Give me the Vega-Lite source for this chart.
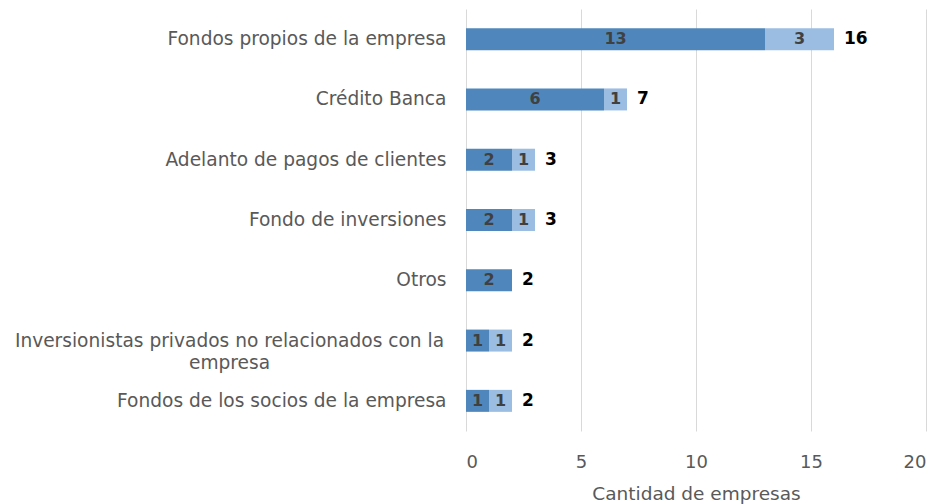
{
  "$schema": "https://vega.github.io/schema/vega-lite/v6.json",
  "width": 460,
  "height": 422,
  "padding": {"left": 14, "top": 9, "right": 10, "bottom": 2},
  "config": {"view": {"stroke": null}, "font": "DejaVu Sans"},
  "data": {"values": [
    {"fuente": "Fondos propios de la empresa", "serie": "Serie 1", "valor": 13},
    {"fuente": "Fondos propios de la empresa", "serie": "Serie 2", "valor": 3},
    {"fuente": "Crédito Banca", "serie": "Serie 1", "valor": 6},
    {"fuente": "Crédito Banca", "serie": "Serie 2", "valor": 1},
    {"fuente": "Adelanto de pagos de clientes", "serie": "Serie 1", "valor": 2},
    {"fuente": "Adelanto de pagos de clientes", "serie": "Serie 2", "valor": 1},
    {"fuente": "Fondo de inversiones", "serie": "Serie 1", "valor": 2},
    {"fuente": "Fondo de inversiones", "serie": "Serie 2", "valor": 1},
    {"fuente": "Otros", "serie": "Serie 1", "valor": 2},
    {"fuente": "Otros", "serie": "Serie 2", "valor": 0},
    {"fuente": "Inversionistas privados no relacionados con la empresa", "serie": "Serie 1", "valor": 1},
    {"fuente": "Inversionistas privados no relacionados con la empresa", "serie": "Serie 2", "valor": 1},
    {"fuente": "Fondos de los socios de la empresa", "serie": "Serie 1", "valor": 1},
    {"fuente": "Fondos de los socios de la empresa", "serie": "Serie 2", "valor": 1}
  ]},
  "encoding": {
    "y": {
      "field": "fuente", "type": "nominal", "title": null,
      "sort": ["Fondos propios de la empresa", "Crédito Banca", "Adelanto de pagos de clientes", "Fondo de inversiones", "Otros", "Inversionistas privados no relacionados con la empresa", "Fondos de los socios de la empresa"],
      "axis": {
        "domain": false, "ticks": false, "labelFontSize": 18.6, "labelColor": "#595959",
        "labelPadding": {"condition": {"test": "datum.value == 'Inversionistas privados no relacionados con la empresa'", "value": 237}, "value": 20},
        "labelAlign": {"condition": {"test": "datum.value == 'Inversionistas privados no relacionados con la empresa'", "value": "center"}, "value": "right"},
        "labelLimit": 600, "labelLineHeight": 22,
        "labelExpr": "datum.label == 'Inversionistas privados no relacionados con la empresa' ? ['Inversionistas privados no relacionados con la', 'empresa'] : datum.label"
      }
    }
  },
  "layer": [
    {
      "transform": [
        {"stack": "valor", "groupby": ["fuente"], "sort": [{"field": "serie"}], "as": ["v0", "v1"]}
      ],
      "mark": {"type": "bar", "size": 22},
      "encoding": {
        "x": {"field": "v0", "type": "quantitative", "scale": {"domain": [0, 20]}, "title": "Cantidad de empresas",
          "axis": {"values": [0, 5, 10, 15, 20], "domain": false, "ticks": false, "gridColor": "#d9d9d9", "labelFontSize": 18, "labelColor": "#595959", "labelPadding": 22, "titleFontSize": 18.5, "titleFontWeight": "normal", "titleColor": "#595959", "titlePadding": 13}},
        "x2": {"field": "v1"},
        "color": {"field": "serie", "type": "nominal", "legend": null, "scale": {"range": ["#4f87bd", "#9bbde2"]}}
      }
    },
    {
      "transform": [
        {"stack": "valor", "groupby": ["fuente"], "sort": [{"field": "serie"}], "as": ["v0", "v1"]},
        {"calculate": "(datum.v0 + datum.v1) / 2", "as": "mid"},
        {"filter": "datum.valor > 0"}
      ],
      "mark": {"type": "text", "fontSize": 16, "fontWeight": "bold", "color": "#404040", "baseline": "middle"},
      "encoding": {
        "x": {"field": "mid", "type": "quantitative"},
        "text": {"field": "valor", "type": "quantitative"}
      }
    },
    {
      "mark": {"type": "text", "fontSize": 17, "fontWeight": "bold", "color": "#000000", "align": "left", "baseline": "middle", "dx": 10},
      "encoding": {
        "x": {"aggregate": "sum", "field": "valor", "type": "quantitative"},
        "text": {"aggregate": "sum", "field": "valor", "type": "quantitative"}
      }
    }
  ]
}
